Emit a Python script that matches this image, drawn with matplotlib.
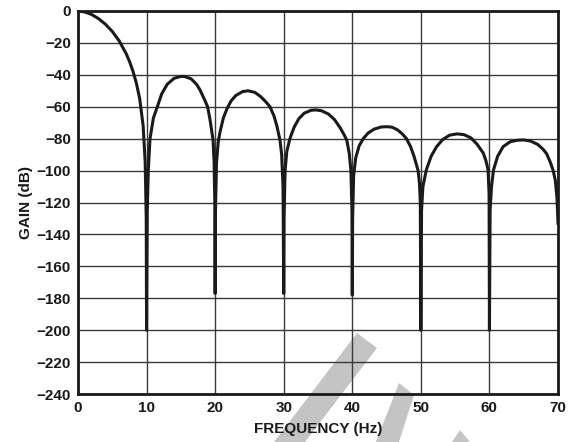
import matplotlib.pyplot as plt
from matplotlib.patches import Polygon

# frequency (Hz) and gain (dB), lobe by lobe
freq_hz = [
    0.0, 1.0, 2.0, 3.0, 4.0, 5.0, 6.0, 7.0, 7.5, 8.0, 8.5, 9.0, 9.5, 9.8, 9.95, 10.0,
    10.1, 10.25, 10.5, 11.0, 11.57, 12.2, 13.0, 14.0, 15.0, 15.5, 16.5, 17.3, 17.8,
    18.5, 18.9, 19.25, 19.5, 19.7, 19.85, 19.95, 20.0,
    20.05, 20.2, 20.45, 20.7, 21.2, 21.7, 22.3, 23.0, 24.0, 24.8, 25.8, 26.6, 27.3,
    28.0, 28.6, 29.0, 29.46, 29.7, 29.9, 30.0,
    30.05, 30.2, 30.45, 30.9, 31.5, 32.2, 33.0, 34.0, 34.7, 35.5, 36.5, 37.4, 38.2,
    38.8, 39.2, 39.55, 39.8, 39.95, 40.0,
    40.05, 40.2, 40.5, 41.0, 41.6, 42.3, 43.2, 44.2, 45.0, 45.8, 46.6, 47.3, 47.9,
    48.5, 49.0, 49.4, 49.6, 49.8, 49.92, 50.0,
    50.1, 50.3, 50.8, 51.5, 52.3, 53.2, 54.2, 55.3, 56.3, 57.3, 58.2, 59.1, 59.5,
    59.8, 59.95, 60.0,
    60.1, 60.3, 60.6, 61.2, 62.0, 63.0, 64.0, 65.0, 66.0, 67.0, 67.8, 68.35, 68.9,
    69.3, 69.6, 69.85, 70.0,
]
gain_db = [
    0.0, -0.6, -2.2, -4.8, -8.3, -12.8, -18.7, -26.5, -31.5, -37.5, -45.0, -55.0, -72.0, -95.0, -130.0, -200.0,
    -125.0, -100.0, -80.0, -67.0, -60.0, -52.0, -46.0, -42.2, -41.0, -41.0, -42.5, -46.0, -49.5,
    -56.0, -60.0, -68.0, -75.0, -81.0, -95.0, -120.0, -177.0,
    -125.0, -95.0, -82.0, -76.0, -67.0, -61.5, -56.5, -53.0, -50.5, -50.0, -51.0, -53.5, -56.5,
    -60.0, -66.0, -72.0, -81.0, -90.0, -110.0, -177.0,
    -130.0, -100.0, -88.0, -80.0, -73.0, -67.5, -64.0, -62.2, -62.0, -62.5, -64.5, -68.0, -73.0,
    -77.5, -81.0, -89.0, -100.0, -125.0, -178.0,
    -130.0, -103.0, -92.0, -84.5, -80.0, -76.5, -74.0, -72.7, -72.5, -72.8, -74.5, -77.0, -80.0,
    -85.0, -91.0, -97.0, -100.0, -108.0, -120.0, -200.0,
    -125.0, -110.0, -99.5, -91.0, -85.0, -80.5, -77.8, -77.0, -77.5, -79.5, -83.5, -89.0, -94.0,
    -99.5, -115.0, -200.0,
    -125.0, -110.0, -99.5, -91.0, -85.0, -82.0, -81.0, -80.8, -81.5, -83.5, -86.5, -89.5, -95.0,
    -100.0, -106.0, -117.0, -133.0,
]
x_ticks = list(range(0, 71, 10))
y_ticks = list(range(0, -241, -20))

plt.rcParams['font.family'] = ['Liberation Sans', 'DejaVu Sans']
plt.rcParams['font.weight'] = 'bold'

fig = plt.figure(figsize=(5.68, 4.42), dpi=100)
ax = fig.add_axes([78 / 568, 1 - 394 / 442, 480 / 568, 383 / 442])
ax.set_facecolor('none')
ax.set_zorder(2)

# grey watermark strokes behind the chart
W, H = 568, 442
wm = [
    [(274, 442), (305, 442), (377, 348), (357, 333)],
    [(376, 442), (399, 442), (414, 395), (399, 383)],
    [(452, 442), (470, 442), (460, 430)],
]
for pts in wm:
    fig.patches.append(Polygon([(x / W, 1 - y / H) for x, y in pts], closed=True,
                               transform=fig.transFigure, facecolor='#c4c4c4',
                               edgecolor='none', zorder=0))

ax.plot(freq_hz, gain_db, color='#1a1a1a', lw=2.2, solid_joinstyle='round', zorder=3)

ax.set_xlim(0, 70)
ax.set_ylim(-240, 0)
ax.set_xticks(x_ticks)
ax.set_yticks(y_ticks)
ax.set_xticklabels([str(v) for v in x_ticks], fontsize=11, fontweight='bold')
ax.set_yticklabels([str(v).replace('-', '\u2212') for v in y_ticks], fontsize=11, fontweight='bold')
ax.tick_params(length=0, pad=5, colors='#1a1a1a')
ax.grid(True, color='#3a3a3a', lw=1.0)
for s in ax.spines.values():
    s.set_linewidth(2.0)
    s.set_color('#1a1a1a')

ax.set_xlabel('FREQUENCY (Hz)', fontsize=11, fontweight='bold', labelpad=5, color='#1a1a1a')
ax.set_ylabel('GAIN (dB)', fontsize=11, fontweight='bold', labelpad=3, color='#1a1a1a')

fig.savefig('out.png', dpi=100)
